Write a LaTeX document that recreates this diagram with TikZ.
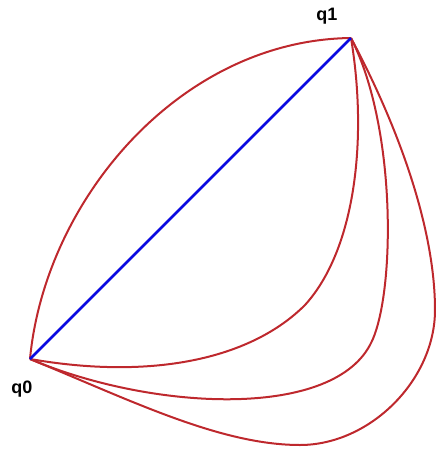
\documentclass[tikz,border=0pt]{standalone}
\usepackage{fontspec}
\setmainfont{Liberation Sans}
\usepackage{tikz}
\usetikzlibrary{positioning}
\definecolor{arcred}{RGB}{190,40,45}
\definecolor{chordblue}{RGB}{10,10,225}

\begin{document}
\begin{tikzpicture}[
    x=0.5pt, y=-0.5pt,
    arc/.style={draw=arcred, line width=1pt},
    chord/.style={draw=chordblue, line width=1.4pt},
    vlabel/.style={font=\bfseries\fontsize{9}{10}\selectfont, inner sep=1pt}
]
    \useasboundingbox (0,0) rectangle (435,451);
    % end points
    \coordinate (q0) at (30,359);
    \coordinate (q1) at (351,38);
    \node[vlabel] (l0) at (22,389) {q0};
    \node[vlabel] (l1) at (327,16) {q1};

    % upper arc
    \draw[arc] (q0) .. controls (45,200) and (180,40) .. (q1);
    % lower arcs
    \draw[arc] (q0) .. controls (150,380) and (250,360) .. (305,305)
        .. controls (355,250) and (368,140) .. (q1);
    \draw[arc] (q0) .. controls (150,410) and (330,420) .. (370,345)
        .. controls (395,300) and (398,130) .. (q1);
    \draw[arc] (q0) .. controls (130,400) and (220,445) .. (300,445)
        .. controls (370,445) and (435,380) .. (435,310)
        .. controls (435,230) and (400,130) .. (q1);

    % straight chord
    \draw[chord] (q0) -- (q1);
\end{tikzpicture}
\end{document}
